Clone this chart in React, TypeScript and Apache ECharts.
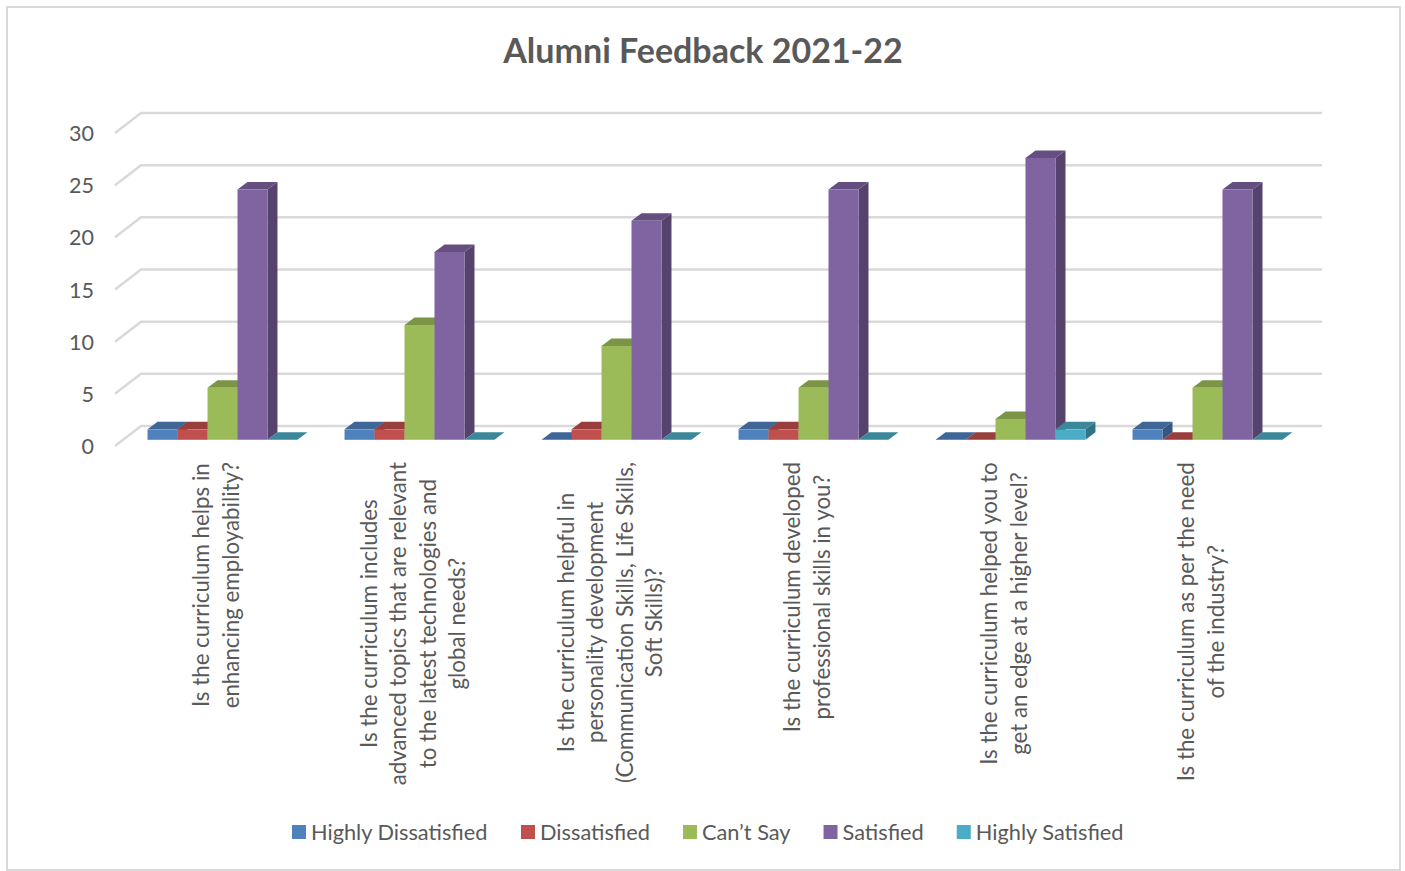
import React, { useEffect, useRef } from "react";
import * as echarts from "echarts";

const title = "Alumni Feedback 2021-22";
const categories = [
  "Is the curriculum helps in\nenhancing employability?",
  "Is the curriculum includes\nadvanced topics that are relevant\nto the latest technologies and\nglobal needs?",
  "Is the curriculum helpful in\npersonality development\n(Communication Skills, Life Skills,\nSoft Skills)?",
  "Is the curriculum developed\nprofessional skills in you?",
  "Is the curriculum helped you to\nget an edge at a higher level?",
  "Is the curriculum as per the need\nof the industry?",
];
const highlyDissatisfied = [1, 1, 0, 1, 0, 1];
const dissatisfied = [1, 1, 1, 1, 0, 0];
const cantSay = [5, 11, 9, 5, 2, 5];
const satisfied = [24, 18, 21, 24, 27, 24];
const highlySatisfied = [0, 0, 0, 0, 1, 0];
const yTicks = [0, 5, 10, 15, 20, 25, 30];

const FONT = "Lato";
const TEXT = "#595959";
const seriesDefs = [
  { name: "Highly Dissatisfied", values: highlyDissatisfied, front: "#4f81bd", top: "#3e6696", side: "#345680" },
  { name: "Dissatisfied", values: dissatisfied, front: "#c0504d", top: "#983f3d", side: "#813634" },
  { name: "Can\u2019t Say", values: cantSay, front: "#9bbb59", top: "#7b9446", side: "#697e3c" },
  { name: "Satisfied", values: satisfied, front: "#8064a2", top: "#654f80", side: "#56436d" },
  { name: "Highly Satisfied", values: highlySatisfied, front: "#4bacc6", top: "#3b889d", side: "#327486" },
];

const DEPTH_X = 10;
const DEPTH_Y = 7.5;
const PLANE_X = 7; // bars' plane relative to the axis plane
const PLANE_Y = -6.2;
const WALL_FRONT_X = -2;
const WALL_DX = 26;
const WALL_DY = -20;

function barRenderer(seriesIndex: number, fill: { front: string; top: string; side: string }) {
  return (_params: any, api: any) => {
    const cat = api.value(0);
    const val = api.value(1);
    const base = api.coord([cat, 0]);
    const tip = api.coord([cat, val]);
    const band = api.size([1, 0])[0];
    const w = band / 6.57;
    const x0 = base[0] + PLANE_X - 2.5 * w + seriesIndex * w;
    const x1 = x0 + w;
    const yb = base[1] + PLANE_Y;
    const yt = tip[1] + PLANE_Y;
    const children: any[] = [];
    if (val > 0) {
      children.push({
        type: "polygon",
        shape: { points: [[x1, yb], [x1 + DEPTH_X, yb - DEPTH_Y], [x1 + DEPTH_X, yt - DEPTH_Y], [x1, yt]] },
        style: { fill: fill.side },
      });
    }
    children.push({
      type: "polygon",
      shape: { points: [[x0, yt], [x0 + DEPTH_X, yt - DEPTH_Y], [x1 + DEPTH_X, yt - DEPTH_Y], [x1, yt]] },
      style: { fill: fill.top },
    });
    if (val > 0) {
      children.push({
        type: "rect",
        shape: { x: x0, y: yt, width: w, height: yb - yt },
        style: { fill: fill.front },
      });
    }
    return { type: "group", children };
  };
}

function wallRenderer(params: any, api: any) {
  const p = api.coord([0, api.value(1)]);
  const g = params.coordSys;
  const fx = g.x + WALL_FRONT_X;
  return {
    type: "polyline",
    shape: {
      points: [
        [fx, p[1]],
        [fx + WALL_DX, p[1] + WALL_DY],
        [g.x + g.width + WALL_FRONT_X + WALL_DX - 1, p[1] + WALL_DY],
      ],
    },
    style: { stroke: "#d9d9d9", lineWidth: 2.5, fill: "none" },
  };
}

export default function App() {
  const ref = useRef<HTMLDivElement>(null);
  useEffect(() => {
    const chart = echarts.init(ref.current!, undefined, { renderer: "svg" });
    chart.setOption({
      animation: false,
      backgroundColor: "#ffffff",
      textStyle: { fontFamily: FONT },
      title: {
        text: title,
        left: 698,
        top: 27,
        textAlign: "center",
        textStyle: { fontFamily: FONT, fontSize: 34, fontWeight: "bold", color: TEXT },
      },
      graphic: [
        {
          type: "rect",
          shape: { x: 7, y: 7, width: 1393, height: 863 },
          style: { fill: "none", stroke: "#d9d9d9", lineWidth: 2 },
          silent: true,
        },
      ],
      legend: {
        left: 287,
        top: 816,
        icon: "rect",
        itemWidth: 14,
        itemHeight: 14,
        itemGap: 33,
        textStyle: { fontFamily: FONT, fontSize: 21.75, color: TEXT },
        data: seriesDefs.map((s) => s.name),
      },
      grid: { left: 117, top: 133, width: 1182, height: 313 },
      xAxis: {
        type: "category",
        data: categories,
        axisLine: { show: false },
        axisTick: { show: false },
        axisLabel: {
          interval: 0,
          rotate: 90,
          align: "right",
          verticalAlign: "middle",
          margin: 16,
          formatter: (v: string) => v.split("\n").map((l) => `{c|${l}}`).join("\n"),
          rich: {
            c: { align: "center", fontFamily: FONT, fontSize: 22.3, color: TEXT, lineHeight: 29.4 },
          },
        },
      },
      yAxis: {
        type: "value",
        min: 0,
        max: 30,
        interval: 5,
        axisLine: { show: false },
        axisTick: { show: false },
        splitLine: { show: false },
        axisLabel: { fontFamily: FONT, fontSize: 21.5, color: TEXT, margin: 23, padding: [0, 0, 4, 0] },
      },
      series: [
        {
          type: "custom",
          name: "gridlines",
          silent: true,
          clip: false,
          z: 1,
          data: yTicks.map((t) => [0, t]),
          encode: { x: 0, y: 1 },
          renderItem: wallRenderer,
        },
        ...seriesDefs.map((s, i) => ({
          type: "custom",
          name: s.name,
          clip: false,
          z: 2 + i,
          itemStyle: { color: s.front },
          data: s.values.map((v, c) => [c, v]),
          encode: { x: 0, y: 1 },
          renderItem: barRenderer(i, s),
        })),
      ],
    });
    return () => chart.dispose();
  }, []);
  return <div ref={ref} style={{ position: "fixed", left: 0, top: 0, width: 1405, height: 871 }} />;
}
